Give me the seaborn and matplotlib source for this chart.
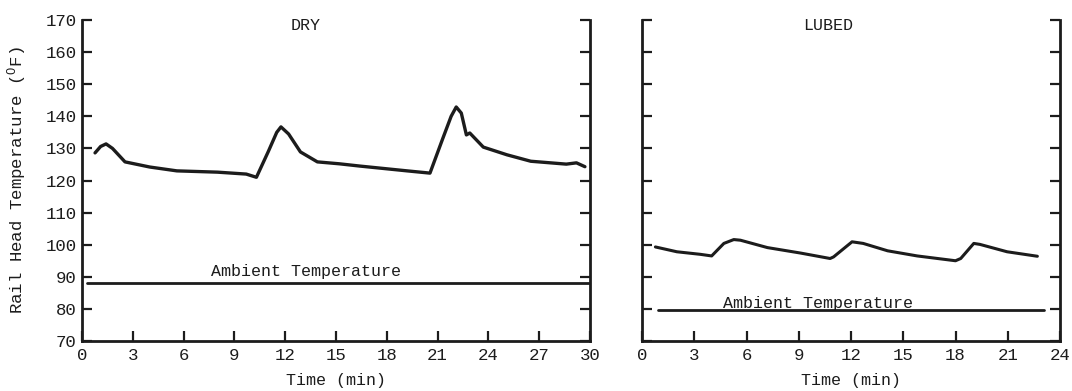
import matplotlib
matplotlib.use("Agg")
import matplotlib.pyplot as plt
import seaborn as sns
import pandas as pd

# ---- data ----
dry_time = [0.77, 1.1, 1.42, 1.8, 2.54, 4.0, 5.6, 8.0, 9.7, 10.3, 11.0, 11.5, 11.75, 12.2, 12.9, 13.9, 15.2,
            16.4, 19.2, 20.55, 21.3, 21.8, 22.1, 22.4, 22.7, 22.9, 23.7, 25.1, 26.5, 28.6, 29.2, 29.7]
dry_temp = [128.6, 130.6, 131.4, 130.0, 125.8, 124.2, 123.0, 122.6, 122.0, 121.0, 129.0, 135.0, 136.7, 134.5, 128.9, 125.8, 125.2,
            124.5, 123.0, 122.3, 133.0, 140.0, 142.9, 141.0, 134.2, 134.8, 130.4, 128.0, 126.0, 125.1, 125.5, 124.3]
dry_ambient_time = [0.3, 30.0]
dry_ambient_temp = [88.2, 88.2]

lubed_time = [0.77, 2.0, 3.35, 4.0, 4.7, 5.27, 5.65, 7.2, 9.1, 10.8, 11.0, 12.06, 12.7, 14.1,
              15.8, 18.0, 18.3, 19.05, 19.4, 20.96, 22.7]
lubed_temp = [99.3, 97.8, 97.0, 96.5, 100.4, 101.6, 101.4, 99.1, 97.4, 95.7, 96.2, 100.9, 100.4, 98.1,
              96.5, 95.0, 95.7, 100.4, 100.1, 97.8, 96.4]
lubed_ambient_time = [0.9, 23.1]
lubed_ambient_temp = [79.6, 79.6]

y_ticks = [70, 80, 90, 100, 110, 120, 130, 140, 150, 160, 170]
dry_x_ticks = [0, 3, 6, 9, 12, 15, 18, 21, 24, 27, 30]
lubed_x_ticks = [0, 3, 6, 9, 12, 15, 18, 21, 24]

sns.set_style("ticks")
plt.rcParams['font.family'] = ['Liberation Mono', 'DejaVu Sans Mono']
plt.rcParams['mathtext.fontset'] = 'custom'
plt.rcParams['mathtext.rm'] = 'Liberation Mono'
plt.rcParams['mathtext.it'] = 'Liberation Mono'

ink = '#1c1c1c'
fig = plt.figure(figsize=(10.72, 3.91), dpi=100)
ax1 = fig.add_axes([82/1072, 1-341/391, 508/1072, 321/391])
ax2 = fig.add_axes([642/1072, 1-341/391, 418/1072, 321/391])

def style(ax, xticks, xmax, labels_y):
    ax.set_xlim(0, xmax)
    ax.set_ylim(70, 170)
    ax.set_xticks(xticks)
    ax.set_yticks(y_ticks)
    ax.spines['top'].set_visible(False)
    for s in ['left', 'right', 'bottom']:
        ax.spines[s].set_linewidth(2.0)
        ax.spines[s].set_color(ink)
    ax.tick_params(axis='both', direction='in', length=7, width=1.6, color=ink,
                   labelsize=12.5, labelcolor=ink)
    ax.tick_params(axis='y', right=True, left=True, labelleft=labels_y, pad=4)
    ax.tick_params(axis='x', pad=5)
    ax.set_xlabel('Time (min)', fontsize=12, color=ink, labelpad=7)

df_dry = pd.DataFrame({'t': dry_time, 'T': dry_temp})
df_dry_amb = pd.DataFrame({'t': dry_ambient_time, 'T': dry_ambient_temp})
sns.lineplot(data=df_dry, x='t', y='T', ax=ax1, color=ink, lw=2.4, sort=False)
sns.lineplot(data=df_dry_amb, x='t', y='T', ax=ax1, color=ink, lw=2.0, sort=False)
style(ax1, dry_x_ticks, 30, True)
ax1.set_ylabel(r'Rail Head Temperature ($^{\mathrm{O}}$F)', fontsize=12.5, color=ink, labelpad=12)
ax1.text(13.2, 91.8, 'Ambient Temperature', ha='center', va='center', fontsize=12, color=ink)
ax1.text(13.2, 168.2, 'DRY', ha='center', va='center', fontsize=12, color=ink)

df_lub = pd.DataFrame({'t': lubed_time, 'T': lubed_temp})
df_lub_amb = pd.DataFrame({'t': lubed_ambient_time, 'T': lubed_ambient_temp})
sns.lineplot(data=df_lub, x='t', y='T', ax=ax2, color=ink, lw=2.2, sort=False)
sns.lineplot(data=df_lub_amb, x='t', y='T', ax=ax2, color=ink, lw=2.0, sort=False)
style(ax2, lubed_x_ticks, 24, False)
ax2.set_ylabel('')
ax2.text(10.1, 81.6, 'Ambient Temperature', ha='center', va='center', fontsize=12, color=ink)
ax2.text(10.7, 168.2, 'LUBED', ha='center', va='center', fontsize=12, color=ink)

fig.savefig('out.png', dpi=100)
